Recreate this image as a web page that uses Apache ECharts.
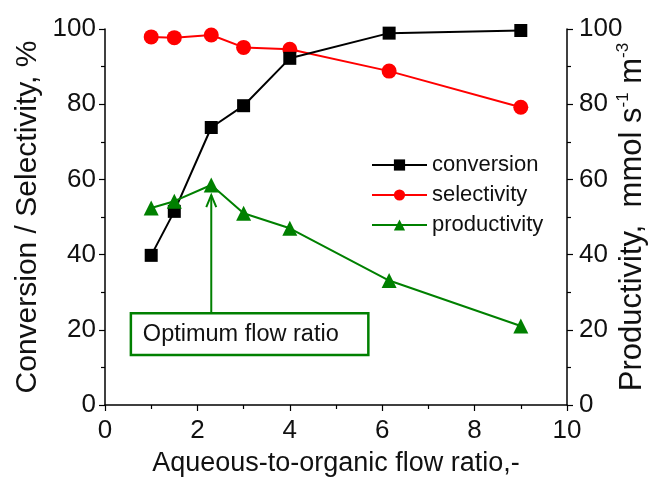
<!DOCTYPE html>
<html><head><meta charset="utf-8">
<script src="https://cdn.jsdelivr.net/npm/echarts@6/dist/echarts.min.js"></script>
<style>html,body{margin:0;padding:0;background:#fff}#c{width:658px;height:479px}</style>
</head><body><div id="c"></div>
<script>
const flowRatio = [1, 1.5, 2.3, 3, 4, 6.15, 9];
const conversion = [39.8, 51.5, 73.8, 79.6, 92.2, 98.9, 99.6];
const selectivity = [97.9, 97.7, 98.4, 95.1, 94.6, 88.8, 79.2];
const productivity = [52.4, 54.2, 58.5, 51.0, 47.0, 33.1, 21.0];
const seriesNames = ['conversion', 'selectivity', 'productivity'];
const annotationText = 'Optimum flow ratio';
const annotationX = 2.3;        // arrow x (flow ratio)
const annotationTipY = 55.8;    // arrow tip (productivity units)
const annotationBox = [0.56, 24.4, 5.7, 13.3]; // x0, yTop, x1, yBottom in data units

const FONT = '"Liberation Sans", Arial, sans-serif';
const chart = echarts.init(document.getElementById('c'));
const axisCommon = {
  axisLine: {show: true, lineStyle: {color: '#000', width: 1.5}},
  axisTick: {show: true, inside: false, length: 6, lineStyle: {color: '#000', width: 1.2}},
  minorTick: {show: true, splitNumber: 2, length: 4, lineStyle: {color: '#000', width: 1.2}},
  splitLine: {show: false},
  axisLabel: {color: '#111', fontSize: 26, fontFamily: FONT, margin: 9},
  nameTextStyle: {color: '#111', fontSize: 27, fontFamily: FONT},
  nameMoveOverlap: false
};
const mk = (i) => flowRatio.map((x, k) => [x, [conversion, selectivity, productivity][i][k]]);
chart.setOption({
  animation: false,
  textStyle: {fontFamily: FONT},
  grid: {left: 105, right: 91, top: 29, bottom: 74, containLabel: false, outerBoundsMode: 'none'},
  xAxis: Object.assign({}, axisCommon, {
    type: 'value', min: 0, max: 10, interval: 2,
    name: 'Aqueous-to-organic flow ratio,-', nameLocation: 'middle', nameGap: 45,
    axisLabel: Object.assign({}, axisCommon.axisLabel, {margin: 13})
  }),
  yAxis: [
    Object.assign({}, axisCommon, {
      type: 'value', min: 0, max: 100, interval: 20, position: 'left',
      name: 'Conversion / Selectivity, %', nameLocation: 'middle', nameGap: 62,
      nameTextStyle: {color: '#111', fontSize: 30, fontFamily: FONT}
    }),
    Object.assign({}, axisCommon, {
      type: 'value', min: 0, max: 100, interval: 20, position: 'right',
      axisLabel: Object.assign({}, axisCommon.axisLabel, {margin: 12}),
      name: '{a|Productivity,  mmol s}{s|-1}{a| m}{s|-3}', nameLocation: 'middle', nameGap: 48,
      nameTextStyle: {color: '#111', fontFamily: FONT,
        rich: {a: {fontSize: 31, fontFamily: FONT, color: '#111', lineHeight: 34},
               s: {fontSize: 17, fontFamily: FONT, color: '#111', verticalAlign: 'top', lineHeight: 17}}}
    })
  ],
  legend: {
    orient: 'vertical', left: 366, top: 149, itemWidth: 55, itemHeight: 14, itemGap: 8,
    textStyle: {fontSize: 22, color: '#111', fontFamily: FONT, lineHeight: 22},
    data: seriesNames
  },
  series: [
    {name: seriesNames[0], type: 'line', data: mk(0), symbol: 'rect', symbolSize: 13,
     lineStyle: {color: '#000', width: 2}, itemStyle: {color: '#000'}, z: 3},
    {name: seriesNames[1], type: 'line', data: mk(1), symbol: 'circle', symbolSize: 15,
     lineStyle: {color: '#f00', width: 2}, itemStyle: {color: '#f00'}, z: 2},
    {name: seriesNames[2], type: 'line', yAxisIndex: 1, data: mk(2), symbol: 'triangle', symbolSize: 15,
     lineStyle: {color: '#008000', width: 2}, itemStyle: {color: '#008000'}, z: 4}
  ]
});
const p = (x, y) => chart.convertToPixel({xAxisIndex: 0, yAxisIndex: 1}, [x, y]);
const b0 = p(annotationBox[0], annotationBox[1]);
const b1 = p(annotationBox[2], annotationBox[3]);
const tip = p(annotationX, annotationTipY);
chart.setOption({graphic: [
  {type: 'line', shape: {x1: tip[0], y1: tip[1], x2: tip[0], y2: b0[1]},
   style: {stroke: '#008000', lineWidth: 2}},
  {type: 'polyline', shape: {points: [[tip[0] - 5, tip[1] + 12], [tip[0], tip[1]], [tip[0] + 5, tip[1] + 12]]},
   style: {stroke: '#008000', lineWidth: 2, fill: null}},
  {type: 'rect', shape: {x: b0[0], y: b0[1], width: b1[0] - b0[0], height: b1[1] - b0[1]},
   style: {fill: '#fff', stroke: '#008000', lineWidth: 2.5}},
  {type: 'text', x: b0[0] + 12, y: (b0[1] + b1[1]) / 2,
   style: {text: annotationText, fontSize: 23.5, fontFamily: FONT, fill: '#111', verticalAlign: 'middle'}}
]});
</script></body></html>
